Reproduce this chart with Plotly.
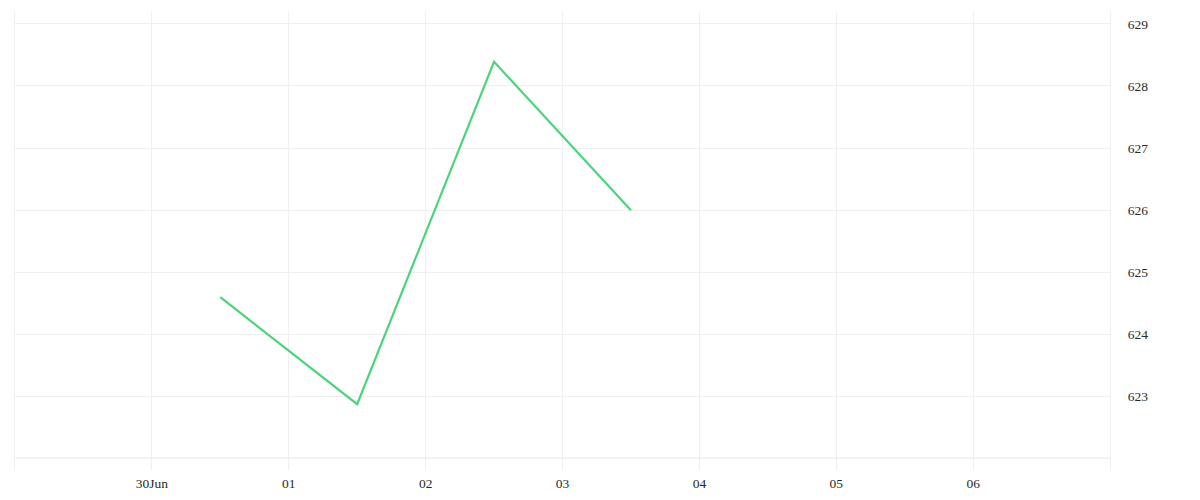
import plotly.graph_objects as go

dates = ["2024-06-30 12:00", "2024-07-01 12:00", "2024-07-02 12:00", "2024-07-03 12:00"]
values = [624.6, 622.88, 628.39, 626.0]
x_tick_vals = ["2024-06-30", "2024-07-01", "2024-07-02", "2024-07-03", "2024-07-04", "2024-07-05", "2024-07-06"]
x_tick_text = ["30Jun", "01", "02", "03", "04", "05", "06"]
y_tick_vals = [622, 623, 624, 625, 626, 627, 628, 629]
y_tick_text = ["", "623", "624", "625", "626", "627", "628", "629"]

grid = "#efefef"
fnt = dict(family="Liberation Serif", size=13.5, color="#2a2a2a")

fig = go.Figure()
fig.add_trace(go.Scatter(x=dates, y=values, mode="lines",
                         line=dict(color="#4cd47c", width=2.2), showlegend=False))

fig.update_layout(
    width=1184, height=484,
    margin=dict(l=7, r=82, t=4, b=22),
    paper_bgcolor="white", plot_bgcolor="white",
    font=fnt,
    xaxis=dict(range=["2024-06-29", "2024-07-07"], tickvals=x_tick_vals, ticktext=x_tick_text,
               showgrid=True, gridcolor=grid, gridwidth=1, zeroline=False, showline=False,
               ticks="", tickfont=fnt, ticklabelstandoff=3, automargin=False),
    yaxis=dict(range=[621.82, 629.19], side="right", tickvals=y_tick_vals, ticktext=y_tick_text,
               showgrid=True, gridcolor=grid, gridwidth=1, zeroline=False,
               showline=True, mirror=True, linecolor=grid, linewidth=1,
               ticks="", tickfont=fnt, ticklabelstandoff=14, automargin=False),
    shapes=[dict(type="line", xref="paper", yref="paper", x0=0, x1=1,
                 y0=12/456, y1=12/456, line=dict(color=grid, width=1))],
)

fig.write_html("out.html")
